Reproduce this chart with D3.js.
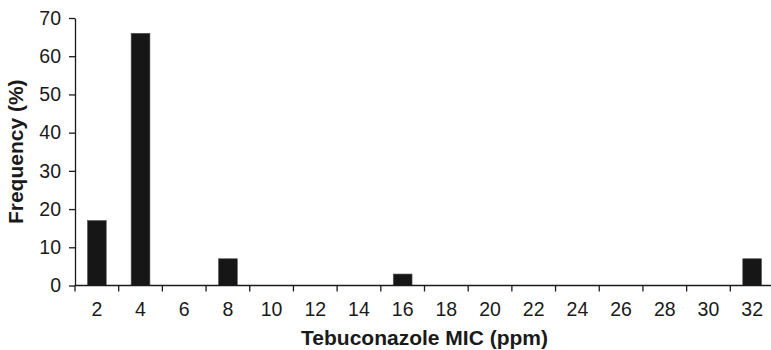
<!DOCTYPE html>
<html>
<head>
<meta charset="utf-8">
<script src="https://cdn.jsdelivr.net/npm/d3@7"></script>
<style>
  body { margin: 0; background: #fff; }
  text { font-family: "Liberation Sans", Arial, sans-serif; fill: #1a1a1a; }
</style>
</head>
<body>
<div id="chart"></div>
<script>
// MIC categories (ppm) and frequency (%)
const categories = ["2", "4", "6", "8", "10", "12", "14", "16", "18", "20", "22", "24", "26", "28", "30", "32"];
const frequency = [17, 66, 0, 7, 0, 0, 0, 3, 0, 0, 0, 0, 0, 0, 0, 7];
const yTicks = [0, 10, 20, 30, 40, 50, 60, 70];

const width = 771, height = 350;
const margin = {top: 18, right: -3, bottom: 64.5, left: 75};

const svg = d3.select("#chart").append("svg")
  .attr("width", width)
  .attr("height", height);

const x = d3.scaleBand()
  .domain(categories)
  .range([margin.left, width - margin.right])
  .paddingInner(0.57)
  .paddingOuter(0.285);

// band ticks sit on category boundaries
const xb = d3.scaleBand()
  .domain(categories)
  .range([margin.left, width - margin.right]);

const y = d3.scaleLinear()
  .domain([0, 70])
  .range([height - margin.bottom, margin.top]);

// bars
svg.append("g")
  .selectAll("rect")
  .data(categories.map((c, i) => ({c: c, v: frequency[i]})).filter(d => d.v > 0))
  .join("rect")
    .attr("x", d => x(d.c))
    .attr("width", x.bandwidth())
    .attr("y", d => y(d.v))
    .attr("height", d => y(0) - y(d.v))
    .attr("fill", "#161616")
    .attr("stroke", "#555")
    .attr("stroke-width", 0.6);

// y axis
const yAxis = svg.append("g")
  .attr("transform", "translate(" + margin.left + ",0)")
  .call(d3.axisLeft(y).tickValues(yTicks).tickSize(6).tickPadding(8).tickSizeOuter(0));
yAxis.selectAll("text").style("font-size", "19.5px");
yAxis.selectAll("line, path").attr("stroke", "#1a1a1a").attr("stroke-width", 1.3);

// x axis: line + boundary ticks
const xg = svg.append("g").attr("transform", "translate(0," + y(0) + ")");
xg.append("line")
  .attr("x1", margin.left).attr("x2", width)
  .attr("stroke", "#1a1a1a").attr("stroke-width", 1.3);
xg.selectAll("line.tick")
  .data(categories)
  .join("line")
    .attr("class", "tick")
    .attr("x1", d => xb(d)).attr("x2", d => xb(d))
    .attr("y1", 0).attr("y2", 6)
    .attr("stroke", "#1a1a1a").attr("stroke-width", 1.3);
xg.selectAll("text")
  .data(categories)
  .join("text")
    .attr("x", d => xb(d) + xb.bandwidth() / 2)
    .attr("y", 30.5)
    .attr("text-anchor", "middle")
    .style("font-size", "19.5px")
    .text(d => d);

// axis titles
svg.append("text")
  .attr("x", (margin.left + width - margin.right) / 2)
  .attr("y", 344.5)
  .attr("text-anchor", "middle")
  .style("font-size", "21px")
  .style("font-weight", "bold")
  .text("Tebuconazole MIC (ppm)");

svg.append("text")
  .attr("transform", "translate(23," + ((margin.top + height - margin.bottom) / 2) + ") rotate(-90)")
  .attr("text-anchor", "middle")
  .style("font-size", "21px")
  .style("font-weight", "bold")
  .text("Frequency (%)");
</script>
</body>
</html>
